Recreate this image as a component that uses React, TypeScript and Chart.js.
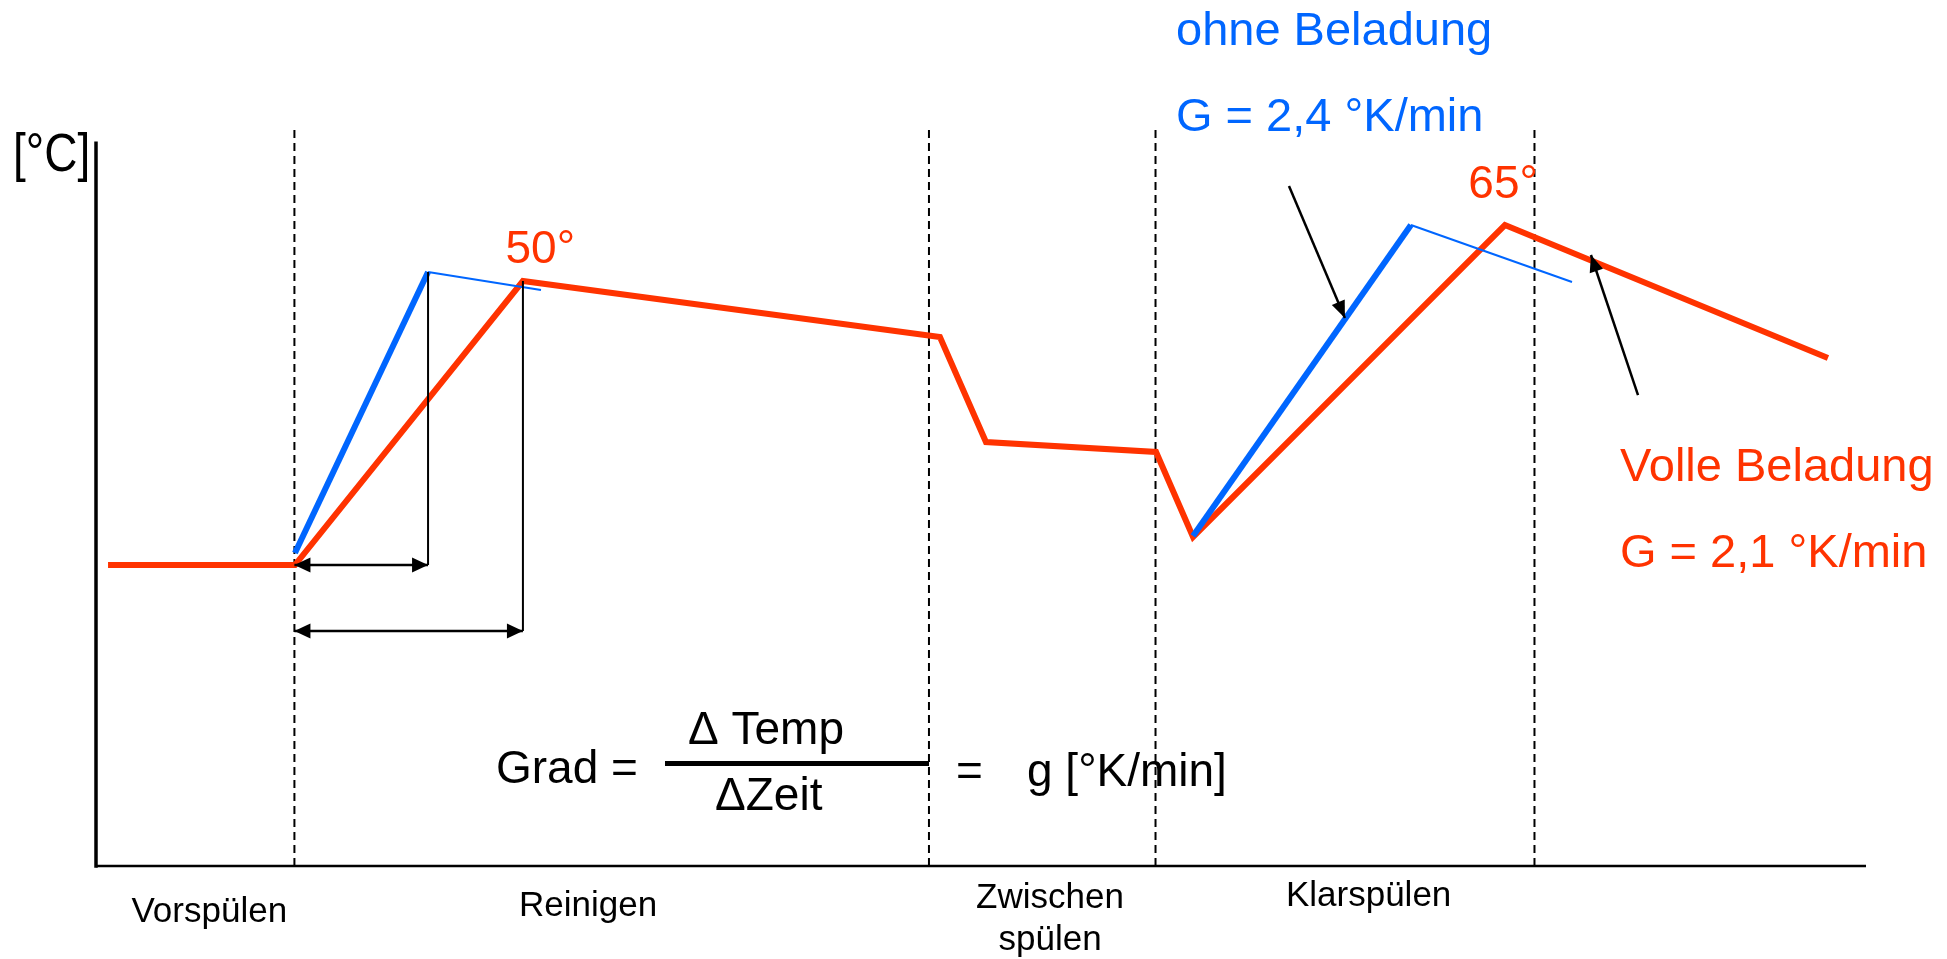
import React, { useEffect, useRef } from 'react';
import { Chart, registerables } from 'chart.js';

Chart.register(...registerables);

const RED = '#FF3300';
const BLUE = '#0066FF';
const BLACK = '#000000';
const FONT = '"Liberation Sans", Arial, Helvetica, sans-serif';

// Volle Beladung temperature profile (time units, temperature units)
const volleTime = [0.68, 11.24, 24.12, 47.68, 50.28, 59.89, 61.98, 79.6, 97.85];
const volleTemp = [33.44, 33.44, 65.0, 58.78, 47.11, 46.0, 36.56, 71.22, 56.44];

// Ohne Beladung: steeper heating ramps
const ohneRamp1Time = [11.24, 18.76];
const ohneRamp1Temp = [34.78, 66.0];
const ohneRamp2Time = [61.98, 74.29];
const ohneRamp2Temp = [36.67, 71.22];

// Ohne Beladung: thin continuation after peak
const ohneTail1Time = [18.76, 25.14];
const ohneTail1Temp = [66.0, 64.0];
const ohneTail2Time = [74.29, 83.39];
const ohneTail2Temp = [71.22, 64.89];

// Δ Zeit measurement: vertical drops and horizontal spans
const dropTime = [18.76, 24.12];
const dropTopTemp = [66.0, 65.0];
const dropBottomTemp = [33.44, 26.11];
const spanStartTime = 11.21;

// Phases
const phaseBounds = [11.21, 47.06, 59.86, 81.27];
const phaseTopTemp = 82;
const phaseLabels = [['Vorspülen'], ['Reinigen'], ['Zwischen', 'spülen'], ['Klarspülen']];
const phaseLabelTime = [6.4, 27.8, 53.9, 71.9];

// Axes extents
const axisTimeMax = 100;
const axisTempMax = 80.3;

// Pointer arrows (from -> to)
const pointerFromTime = [67.4, 87.12];
const pointerFromTemp = [75.56, 52.33];
const pointerToTime = [70.56, 84.46];
const pointerToTemp = [60.89, 67.89];

// Peak labels
const peakLabels = ['50°', '65°'];
const peakLabelTime = [25.1, 79.5];
const peakLabelTemp = [67.0, 74.2];

const pts = (xs: number[], ys: number[]) => xs.map((x, i) => ({ x, y: ys[i] }));

const arrowPlugin = {
  id: 'arrowHeads',
  afterDatasetsDraw(chart: any) {
    const ctx = chart.ctx;
    chart.data.datasets.forEach((ds: any, i: number) => {
      const heads: string[] | undefined = ds.arrowHeads;
      if (!heads) return;
      const meta = chart.getDatasetMeta(i);
      const p = meta.data;
      if (p.length < 2) return;
      const L = ds.headLength || 14;
      const H = ds.headHalf || 6;
      const draw = (tip: any, from: any) => {
        const ang = Math.atan2(tip.y - from.y, tip.x - from.x);
        ctx.save();
        ctx.translate(tip.x, tip.y);
        ctx.rotate(ang);
        ctx.beginPath();
        ctx.moveTo(0, 0);
        ctx.lineTo(-L, H);
        ctx.lineTo(-L, -H);
        ctx.closePath();
        ctx.fillStyle = ds.borderColor;
        ctx.fill();
        ctx.restore();
      };
      if (heads.includes('end')) draw(p[p.length - 1], p[p.length - 2]);
      if (heads.includes('start')) draw(p[0], p[1]);
    });
  },
};

const textPlugin = {
  id: 'texts',
  afterDraw(chart: any) {
    const ctx = chart.ctx;
    const xs = chart.scales.x;
    const ys = chart.scales.y;
    ctx.save();
    ctx.textBaseline = 'alphabetic';

    const txt = (s: string, x: number, y: number, size: number, color: string, align: CanvasTextAlign = 'left', sy = 1) => {
      ctx.save();
      ctx.font = `${size}px ${FONT}`;
      ctx.fillStyle = color;
      ctx.textAlign = align;
      ctx.translate(x, y);
      ctx.scale(1, sy);
      ctx.fillText(s, 0, 0);
      ctx.restore();
    };

    // unit label
    txt('[°C]', 13, 171, 46, BLACK, 'left', 1.15);

    // peak labels
    peakLabels.forEach((s, i) => {
      txt(s, xs.getPixelForValue(peakLabelTime[i]), ys.getPixelForValue(peakLabelTemp[i]), 46, RED, 'center');
    });

    // series annotations
    txt('ohne Beladung', 1176, 45, 47, BLUE);
    txt('G = 2,4 °K/min', 1176, 131, 47, BLUE);
    txt('Volle Beladung', 1620, 481, 47, RED);
    txt('G = 2,1 °K/min', 1620, 567, 47, RED);

    // formula
    txt('Grad =', 496, 783, 46, BLACK);
    txt('Δ Temp', 688, 744, 46, BLACK);
    txt('ΔZeit', 715, 810, 46, BLACK);
    ctx.fillStyle = BLACK;
    ctx.fillRect(665, 761, 264, 5);
    txt('=', 956, 786, 46, BLACK);
    txt('g [°K/min]', 1027, 786, 46, BLACK);

    // phase labels
    const baseLines = [922, 916, 908, 906];
    phaseLabels.forEach((lines, i) => {
      const cx = xs.getPixelForValue(phaseLabelTime[i]);
      lines.forEach((l, j) => txt(l, cx, baseLines[i] + j * 42, 35, BLACK, 'center'));
    });
    ctx.restore();
  },
};

export default function App() {
  const ref = useRef<HTMLCanvasElement | null>(null);

  useEffect(() => {
    if (!ref.current) return;
    const datasets: any[] = [];

    phaseBounds.forEach((t) => {
      datasets.push({
        data: pts([t, t], [0, phaseTopTemp]),
        borderColor: BLACK,
        borderWidth: 2,
        borderDash: [8, 5],
        order: 10,
      });
    });

    // axes
    datasets.push({ data: pts([0, 0], [0, axisTempMax]), borderColor: BLACK, borderWidth: 3.5, order: 9, borderCapStyle: 'square' });
    datasets.push({ data: pts([0, axisTimeMax], [0, 0]), borderColor: BLACK, borderWidth: 2.5, order: 9 });

    datasets.push({
      label: 'Volle Beladung',
      data: pts(volleTime, volleTemp),
      borderColor: RED,
      borderWidth: 6,
      borderJoinStyle: 'miter',
      order: 6,
    });
    datasets.push({ label: 'ohne Beladung', data: pts(ohneRamp1Time, ohneRamp1Temp), borderColor: BLUE, borderWidth: 6, order: 4 });
    datasets.push({ data: pts(ohneRamp2Time, ohneRamp2Temp), borderColor: BLUE, borderWidth: 6, order: 4 });
    datasets.push({ data: pts(ohneTail1Time, ohneTail1Temp), borderColor: BLUE, borderWidth: 2, order: 3 });
    datasets.push({ data: pts(ohneTail2Time, ohneTail2Temp), borderColor: BLUE, borderWidth: 2, order: 3 });

    dropTime.forEach((t, i) => {
      datasets.push({ data: pts([t, t], [dropTopTemp[i], dropBottomTemp[i]]), borderColor: BLACK, borderWidth: 2, order: 2 });
      datasets.push({
        data: pts([spanStartTime, t], [dropBottomTemp[i], dropBottomTemp[i]]),
        borderColor: BLACK,
        borderWidth: 2.5,
        order: 2,
        arrowHeads: ['start', 'end'],
        headLength: 16,
        headHalf: 7.5,
      });
    });

    pointerFromTime.forEach((t, i) => {
      datasets.push({
        data: pts([t, pointerToTime[i]], [pointerFromTemp[i], pointerToTemp[i]]),
        borderColor: BLACK,
        borderWidth: 2.5,
        order: 1,
        arrowHeads: ['end'],
        headLength: 17,
        headHalf: 7,
      });
    });

    datasets.forEach((d) => {
      d.pointRadius = 0;
      d.pointHoverRadius = 0;
      d.fill = false;
      d.tension = 0;
      d.clip = false;
    });

    const chart = new Chart(ref.current, {
      type: 'line',
      data: { datasets },
      options: {
        animation: false,
        responsive: false,
        maintainAspectRatio: false,
        devicePixelRatio: 1,
        layout: { padding: { left: 96, right: 81, top: 128, bottom: 93 } },
        plugins: { legend: { display: false }, tooltip: { enabled: false } },
        events: [],
        scales: {
          x: { type: 'linear', display: false, min: 0, max: axisTimeMax },
          y: { type: 'linear', display: false, min: 0, max: phaseTopTemp },
        },
      },
      plugins: [arrowPlugin, textPlugin],
    } as any);
    return () => chart.destroy();
  }, []);

  return (
    <div style={{ position: 'fixed', left: 0, top: 0, width: 1947, height: 959, background: '#fff' }}>
      <canvas ref={ref} width={1947} height={959} style={{ display: 'block', width: 1947, height: 959 }} />
    </div>
  );
}
